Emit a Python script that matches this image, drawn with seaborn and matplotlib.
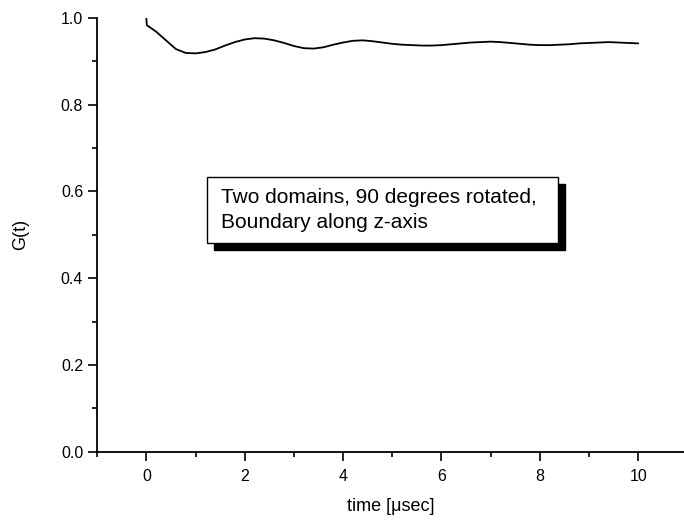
import matplotlib
matplotlib.use("Agg")
import matplotlib.pyplot as plt
import seaborn as sns
import pandas as pd
from matplotlib.patches import Rectangle
from matplotlib.ticker import MultipleLocator, FormatStrFormatter

# data
time_us = [0, 0.01, 0.2, 0.4, 0.6, 0.8, 1.0, 1.2, 1.4, 1.6, 1.8, 2.0, 2.2, 2.4, 2.6,
           2.8, 3.0, 3.2, 3.4, 3.6, 3.8, 4.0, 4.2, 4.4, 4.6, 4.8, 5.0, 5.2, 5.4, 5.6,
           5.8, 6.0, 6.2, 6.4, 6.6, 6.8, 7.0, 7.2, 7.4, 7.6, 7.8, 8.0, 8.2, 8.4, 8.6,
           8.8, 9.0, 9.2, 9.4, 9.6, 9.8, 10.0]
g_t = [1.0, 0.983, 0.968, 0.948, 0.928, 0.919, 0.918, 0.921, 0.927, 0.936, 0.944,
       0.950, 0.953, 0.952, 0.948, 0.942, 0.935, 0.930, 0.929, 0.932, 0.938, 0.943,
       0.947, 0.948, 0.946, 0.943, 0.940, 0.938, 0.937, 0.936, 0.936, 0.937, 0.939,
       0.941, 0.943, 0.944, 0.945, 0.944, 0.942, 0.940, 0.938, 0.937, 0.937, 0.938,
       0.939, 0.941, 0.942, 0.943, 0.944, 0.943, 0.942, 0.941]
note = "Two domains, 90 degrees rotated,\nBoundary along z-axis"

sns.set_style("ticks", {"text.color": "black", "axes.labelcolor": "black",
                        "xtick.color": "black", "ytick.color": "black"})
plt.rcParams['font.family'] = ['Liberation Sans', 'DejaVu Sans']

df = pd.DataFrame({'time': time_us, 'G': g_t})

fig = plt.figure(figsize=(6.84, 5.23), dpi=100)
ax = fig.add_axes([0.142, 0.136, 0.858, 0.830])
sns.lineplot(data=df, x='time', y='G', color='black', linewidth=1.3, ax=ax, sort=False)

ax.set_xlim(-1, 10.93)
ax.set_ylim(0, 1.0)
ax.xaxis.set_major_locator(MultipleLocator(2))
ax.xaxis.set_minor_locator(MultipleLocator(1))
ax.yaxis.set_major_locator(MultipleLocator(0.2))
ax.yaxis.set_minor_locator(MultipleLocator(0.1))
ax.tick_params(which='major', direction='out', length=6.5, width=1.2, labelsize=11.5,
               colors='black')
ax.tick_params(axis='x', which='major', pad=6)
ax.tick_params(which='minor', direction='out', length=3.8, width=1.2)
ax.yaxis.set_major_formatter(FormatStrFormatter('%.1f'))
for s in ['top', 'right']:
    ax.spines[s].set_visible(False)
for s in ['left', 'bottom']:
    ax.spines[s].set_linewidth(1.3)
    ax.spines[s].set_color('black')
ax.set_xlabel('time [\u03bcsec]', fontsize=13, labelpad=10, color='black')
ax.set_ylabel('G(t)', fontsize=13, labelpad=23, color='black')

# annotation box with drop shadow
fig.patches.append(Rectangle((0.3128, 0.5220), 0.5132, 0.1262, transform=fig.transFigure,
                             facecolor='black', edgecolor='black', zorder=5))
fig.patches.append(Rectangle((0.3026, 0.5354), 0.5132, 0.1262, transform=fig.transFigure,
                             facecolor='white', edgecolor='black', linewidth=1.0, zorder=6))
fig.text(0.3227, 0.5985, note, fontsize=15, va='center', ha='left', linespacing=1.45,
         color='black', zorder=7)

fig.savefig('out.png', dpi=100)
